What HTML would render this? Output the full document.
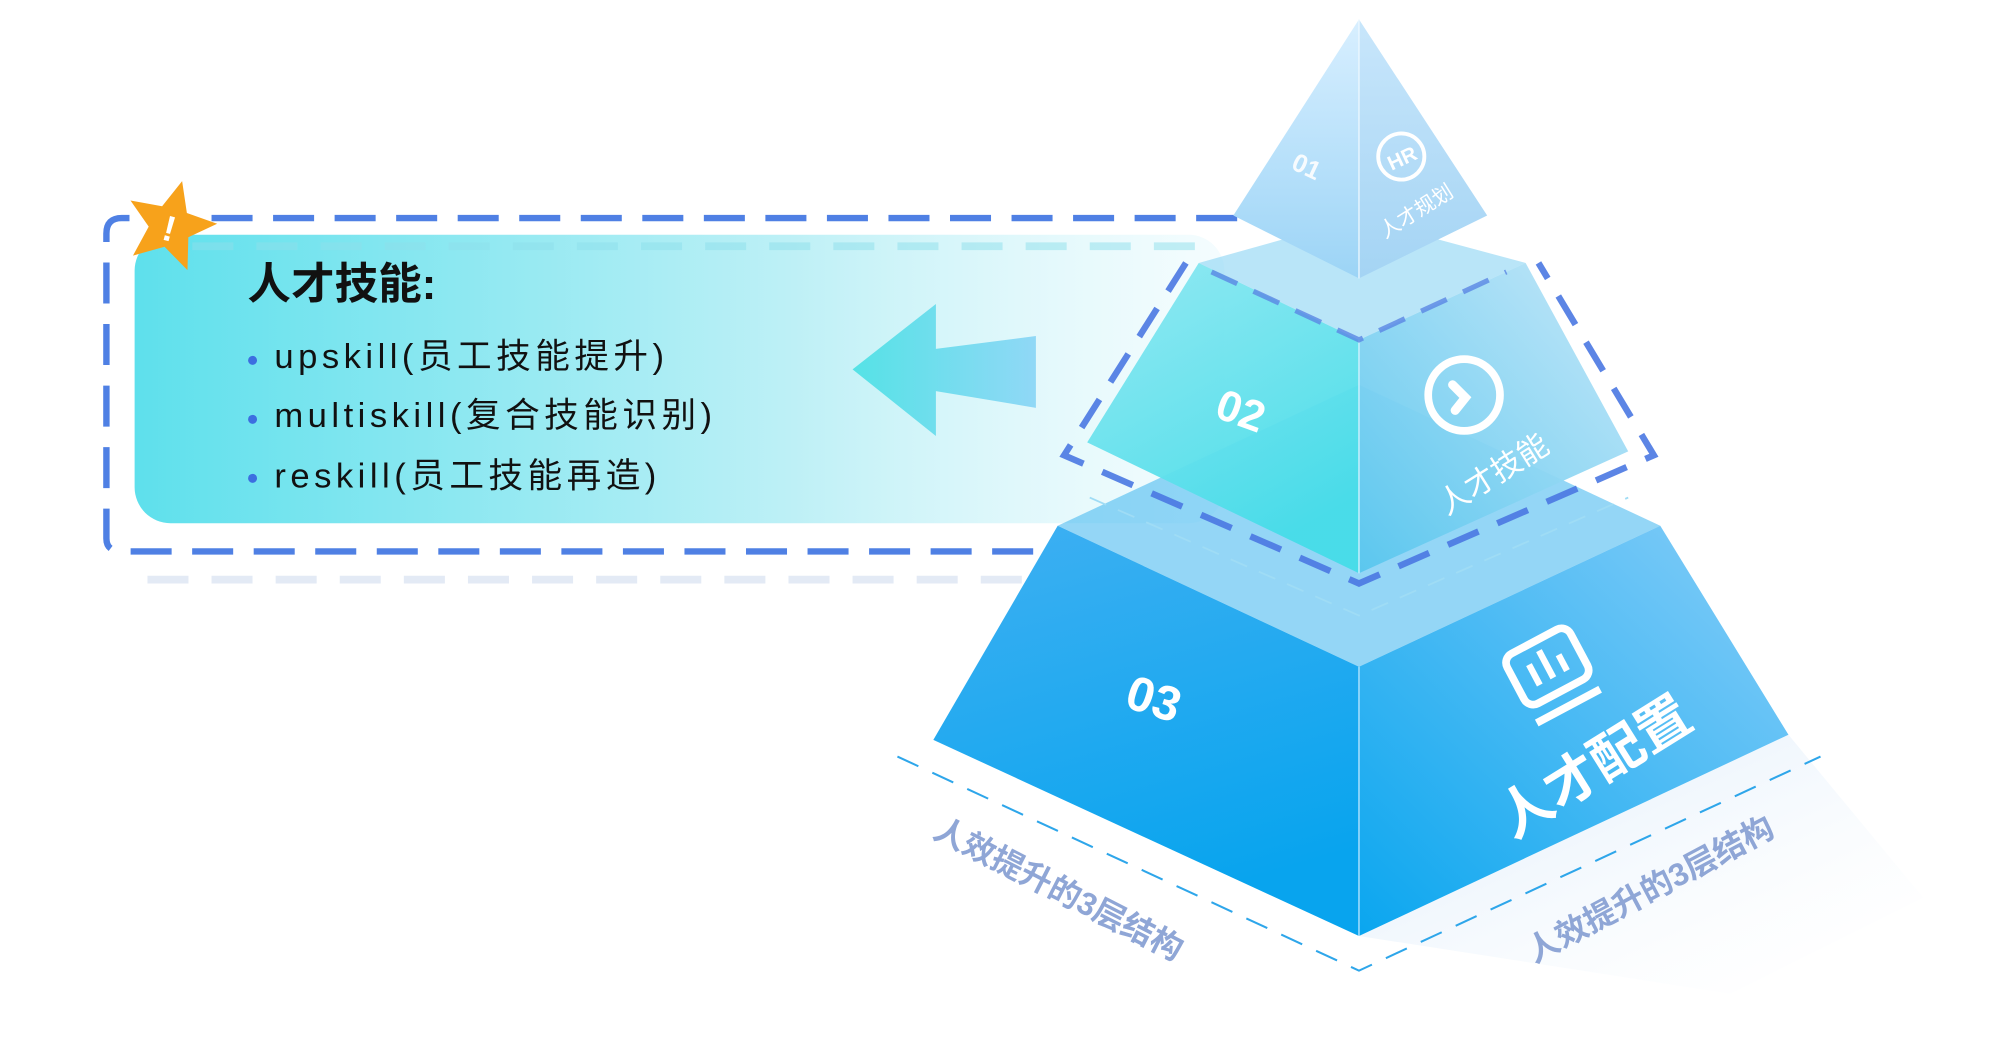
<!DOCTYPE html>
<html><head><meta charset="utf-8"><style>html,body{margin:0;padding:0;background:#fff;width:2000px;height:1040px;overflow:hidden}svg{display:block}text{font-family:"Liberation Sans","Noto Sans CJK SC",sans-serif}</style></head><body>
<svg width="2000" height="1040" viewBox="0 0 1560 811" xmlns="http://www.w3.org/2000/svg">
<defs>
<linearGradient id="box" x1="0" x2="1" y1="0" y2="0"><stop offset="0" stop-color="#5ee0ec"/><stop offset="0.6" stop-color="#bdf0f6"/><stop offset="1" stop-color="#eafafd" stop-opacity="0.5"/></linearGradient>
<linearGradient id="arr" x1="0" x2="1"><stop offset="0" stop-color="#55e2e6"/><stop offset="1" stop-color="#90d8f6"/></linearGradient>
<linearGradient id="bl" x1="0" y1="0" x2="0.3" y2="1"><stop offset="0" stop-color="#3fb0f2"/><stop offset="1" stop-color="#08a4ee"/></linearGradient>
<linearGradient id="br" x1="0" y1="1" x2="1" y2="0"><stop offset="0" stop-color="#0aa6ef"/><stop offset="1" stop-color="#86cdf8"/></linearGradient>
<linearGradient id="ml" x1="0" y1="0" x2="0.5" y2="1"><stop offset="0" stop-color="#8ee8f2"/><stop offset="1" stop-color="#45dce8"/></linearGradient>
<linearGradient id="mr" x1="0" y1="1" x2="1" y2="0"><stop offset="0" stop-color="#58c6ee"/><stop offset="1" stop-color="#c2e6f8"/></linearGradient>
<linearGradient id="tl" x1="0" y1="0" x2="0" y2="1"><stop offset="0" stop-color="#d8efff"/><stop offset="1" stop-color="#9cd4f6"/></linearGradient>
<linearGradient id="tr" x1="0" y1="0" x2="0" y2="1"><stop offset="0" stop-color="#c8e6fb"/><stop offset="1" stop-color="#a4d4f4"/></linearGradient>
<linearGradient id="sh" x1="0" y1="0" x2="1" y2="1"><stop offset="0" stop-color="#cfe4f8"/><stop offset="1" stop-color="#fff" stop-opacity="0"/></linearGradient>
</defs>
<line x1="115" y1="452" x2="830" y2="452" stroke="#e3eaf5" stroke-width="6" stroke-dasharray="32 18"/>
<rect x="105" y="183" width="850" height="225" rx="28" fill="url(#box)"/>
<line x1="150" y1="192" x2="940" y2="192" stroke="#8ee0ec" stroke-width="6" stroke-dasharray="32 18" opacity="0.5"/>
<path d="M965 170 H95 Q83 170 83 182 V420 Q83 430 95 430 H840" fill="none" stroke="#4f80e4" stroke-width="5" stroke-dasharray="32 16"/>
<polygon points="1060,730 1395,573 1500,700 1350,775" fill="url(#sh)" opacity="0.8"/>
<polyline points="700,590 1060,757 1420,590" fill="none" stroke="#2ea6ea" stroke-width="1.6" stroke-dasharray="18 12"/>
<polygon points="825,410 1060,520 1060,730 728,577" fill="url(#bl)"/>
<polygon points="1060,520 1295,410 1395,573 1060,730" fill="url(#br)"/>
<polygon points="825,410 1060,300 1295,410 1060,520" fill="#3cb4ee" opacity="0.55"/>
<line x1="1060" y1="520" x2="1060" y2="730" stroke="#bfe8ff" stroke-width="1"/>
<polygon points="935,205 1060,265 1060,447 848,345" fill="url(#ml)" opacity="0.95"/>
<polygon points="1060,265 1190,205 1270,352 1060,447" fill="url(#mr)" opacity="0.95"/>
<polygon points="935,205 1060,170 1190,205 1060,265" fill="#7fd0f2" opacity="0.55"/>
<line x1="1060" y1="265" x2="1060" y2="447" stroke="#d8f4ff" stroke-width="1"/>
<path d="M925 205 L830 355 L1060 455 L1290 355 L1200 205" fill="none" stroke="#4a78e2" stroke-width="5" stroke-dasharray="26 16" opacity="0.9"/>
<path d="M945 212 L1060 265 L1175 212" fill="none" stroke="#5a86e4" stroke-width="4" stroke-dasharray="22 14" opacity="0.8"/>
<polyline points="850,388 1060,480 1270,388" fill="none" stroke="#9fdcf5" stroke-width="1.4" stroke-dasharray="14 10"/>
<polygon points="1060,15 1060,217 962,168" fill="url(#tl)"/>
<polygon points="1060,15 1160,168 1060,217" fill="url(#tr)"/>
<line x1="1060" y1="15" x2="1060" y2="217" stroke="#eef8ff" stroke-width="1"/>
<polygon points="665,288 730,237 730,272 808,262 808,318 730,305 730,340" fill="url(#arr)"/>
<polygon points="133,140 143,163 168,165 149,181 155,206 133,193 111,206 117,181 98,165 123,163" fill="#f7a21b" transform="rotate(15 133 175)"/>
<text x="133" y="188" font-size="28" font-weight="bold" fill="#fff" text-anchor="middle" transform="rotate(15 133 175)">!</text>
<text x="193" y="233" font-size="34" font-weight="bold" fill="#111">人才技能:</text>
<g font-size="27" fill="#111" letter-spacing="3.5">
<circle cx="197" cy="281" r="3.5" fill="#3c6fe0"/><text x="214" y="287">upskill(员工技能提升)</text>
<circle cx="197" cy="327" r="3.5" fill="#3c6fe0"/><text x="214" y="333">multiskill(复合技能识别)</text>
<circle cx="197" cy="373" r="3.5" fill="#3c6fe0"/><text x="214" y="380">reskill(员工技能再造)</text>
</g>
<g fill="#fff" font-weight="bold">
<text x="1008" y="137" font-size="20" transform="rotate(25 1020 130)" opacity="0.9">01</text>
<circle cx="1093" cy="122" r="18" fill="none" stroke="#fff" stroke-width="3"/>
<text x="1093" y="129" font-size="16" text-anchor="middle" transform="rotate(-25 1093 122)">HR</text>
<text x="1105" y="170" font-size="16" text-anchor="middle" transform="rotate(-32 1105 165)" font-weight="normal">人才规划</text>
<text x="968" y="332" font-size="34" text-anchor="middle" transform="rotate(20 968 320)">02</text>
<circle cx="1142" cy="308" r="28" fill="none" stroke="#fff" stroke-width="6"/>
<path d="M1133 300 l10 10 l-8 10" fill="none" stroke="#fff" stroke-width="7" stroke-linecap="round"/>
<text x="1165" y="378" font-size="24" text-anchor="middle" transform="rotate(-32 1165 370)" font-weight="normal">人才技能</text>
<text x="900" y="558" font-size="38" text-anchor="middle" transform="rotate(18 900 545)">03</text>
<g transform="rotate(-28 1207 522)"><rect x="1180" y="498" width="56" height="44" rx="8" fill="none" stroke="#fff" stroke-width="6"/><line x1="1180" y1="555" x2="1236" y2="555" stroke="#fff" stroke-width="6"/><line x1="1196" y1="512" x2="1196" y2="530" stroke="#fff" stroke-width="5"/><line x1="1208" y1="506" x2="1208" y2="530" stroke="#fff" stroke-width="5"/><line x1="1220" y1="516" x2="1220" y2="530" stroke="#fff" stroke-width="5"/></g>
<text x="1245" y="612" font-size="42" text-anchor="middle" transform="rotate(-32 1245 600)">人才配置</text>
</g>
<text x="825" y="702" font-size="25" font-weight="bold" fill="#8fa6d6" text-anchor="middle" transform="rotate(27 825 695)">人效提升的3层结构</text>
<text x="1288" y="702" font-size="25" font-weight="bold" fill="#8fa6d6" text-anchor="middle" transform="rotate(-28 1288 695)">人效提升的3层结构</text>
</svg>
</body></html>
